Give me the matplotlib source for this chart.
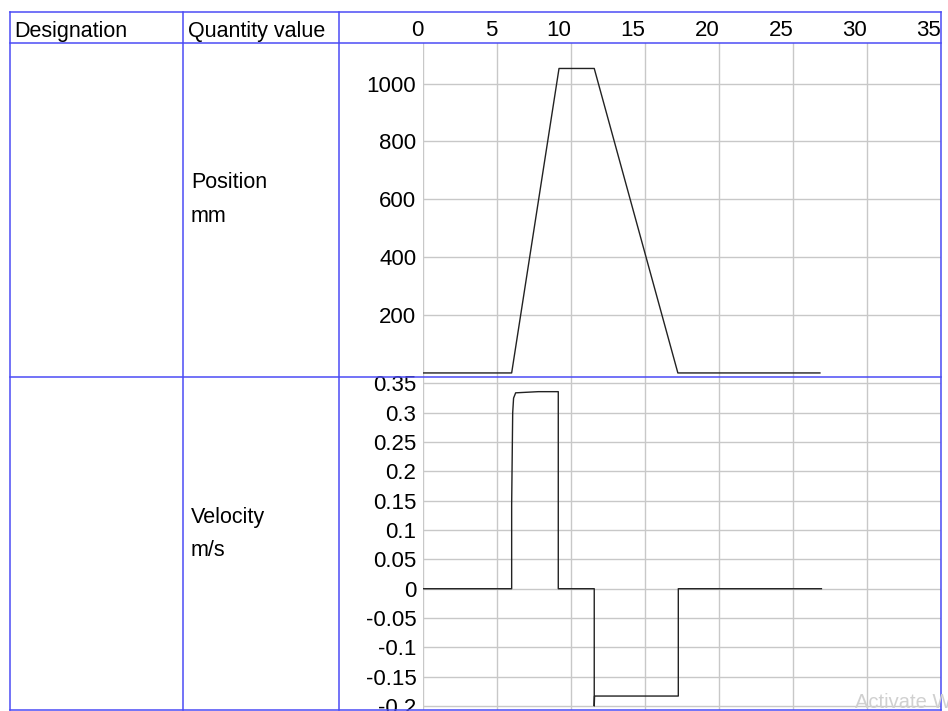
import matplotlib
matplotlib.use("Agg")
import matplotlib.pyplot as plt
import matplotlib.transforms as mtransforms

plt.rcParams['font.family'] = ['Liberation Sans', 'DejaVu Sans']

# ---- data ----
header_cols = ["Designation", "Quantity value"]
x_ticks = [0, 5, 10, 15, 20, 25, 30, 35]

pos_label = ["Position", "mm"]
pos_t = [0, 5.97, 9.17, 11.55, 17.2, 26.8]
pos_v = [0, 0, 1052, 1052, 0, 0]
pos_ticks = [200, 400, 600, 800, 1000]

vel_label = ["Velocity", "m/s"]
vel_t = [0, 5.97, 5.97, 6.04, 6.1, 6.24, 7.77, 9.12, 9.12, 11.55, 11.55, 11.57, 17.23, 17.23, 26.9]
vel_v = [0, 0, 0.143, 0.30, 0.325, 0.334, 0.336, 0.336, 0, 0, -0.20, -0.183, -0.183, 0, 0]
vel_ticks = [-0.2, -0.15, -0.1, -0.05, 0, 0.05, 0.1, 0.15, 0.2, 0.25, 0.3, 0.35]
vel_tick_labels = ["-0.2", "-0.15", "-0.1", "-0.05", "0", "0.05", "0.1", "0.15", "0.2", "0.25", "0.3", "0.35"]

W, H = 948, 711
fig = plt.figure(figsize=(W / 100, H / 100), dpi=100)
fig.patch.set_facecolor('white')

def px_axes(left, top, right, bottom, **kw):
    return fig.add_axes([left / W, 1 - bottom / H, (right - left) / W, (bottom - top) / H], **kw)

FS_TICK = 16
FS_TXT = 15.5
GRID = '#c8c8c8'
LINE = '#222222'
BLUE = '#4b4bf5'

x0_px, x1_px = 423.3, 941.3

# Position panel
axp = px_axes(x0_px, 43, x1_px, 377)
axp.plot(pos_t, pos_v, color=LINE, lw=1.0, zorder=3)
axp.set_xlim(0, 35)
axp.set_ylim(-14, 1140)
axp.set_xticks(x_ticks)
axp.set_yticks(pos_ticks)
axp.set_yticklabels([str(v) for v in pos_ticks])

# Velocity panel
axv = px_axes(x0_px, 377, x1_px, 710)
axv.plot(vel_t, vel_v, color=LINE, lw=1.0, zorder=3)
axv.set_xlim(0, 35)
axv.set_ylim(-0.2068, 0.361)
axv.set_xticks(x_ticks)
axv.set_yticks(vel_ticks)
axv.set_yticklabels(vel_tick_labels)

for ax in (axp, axv):
    ax.grid(True, color=GRID, lw=1.0, zorder=0)
    ax.set_axisbelow(True)
    for s in ax.spines.values():
        s.set_visible(False)
    ax.tick_params(axis='both', length=0, labelsize=FS_TICK, pad=5)
    ax.tick_params(axis='x', labelbottom=False)
    for lab in ax.get_yticklabels():
        lab.set_va('center_baseline')

# Overlay for table lines and labels
ov = fig.add_axes([0, 0, 1, 1], zorder=10)
ov.set_xlim(0, W)
ov.set_ylim(H, 0)
ov.axis('off')
ov.patch.set_alpha(0)

for y in (12, 43, 377, 710):
    ov.plot([10, 941], [y, y], color=BLUE, lw=1.1)
for x in (10, 183, 339, 941):
    ov.plot([x, x], [12, 710], color=BLUE, lw=1.1)

ov.text(14, 32, header_cols[0], fontsize=FS_TXT, va='center', ha='left')
ov.text(188, 32, header_cols[1], fontsize=FS_TXT, va='center', ha='left')

trans = mtransforms.blended_transform_factory(axp.transData, ov.transData)
for t in x_ticks:
    ov.text(t, 31, str(t), transform=trans, fontsize=FS_TICK, va='center', ha='right')

ov.text(191, 183, pos_label[0], fontsize=FS_TXT, va='center', ha='left')
ov.text(191, 217, pos_label[1], fontsize=FS_TXT, va='center', ha='left')
ov.text(191, 517, vel_label[0], fontsize=FS_TXT, va='center', ha='left')
ov.text(191, 551, vel_label[1], fontsize=FS_TXT, va='center', ha='left')

ov.text(855, 703, "Activate Windows", fontsize=FS_TXT - 1, va='center', ha='left', color='#d0d0d0', clip_on=False)

fig.savefig("out.png", dpi=100, facecolor='white')
